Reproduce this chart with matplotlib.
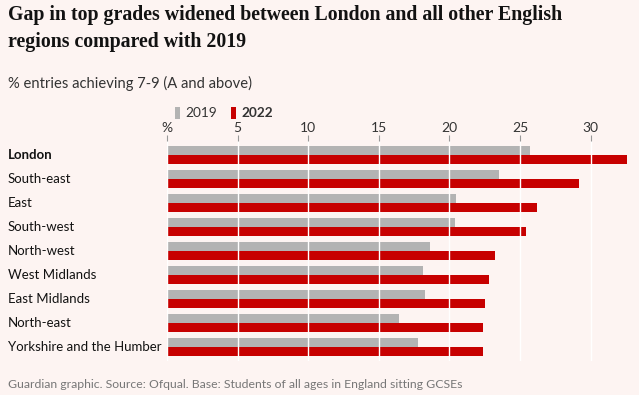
import matplotlib
matplotlib.use("Agg")
import matplotlib.pyplot as plt
from matplotlib.patches import Patch

# Dane: odsetek wpisów z ocenami 7-9 według regionu
regions = ["London", "South-east", "East", "South-west", "North-west",
           "West Midlands", "East Midlands", "North-east", "Yorkshire and the Humber"]
values_2019 = [25.7, 23.5, 20.5, 20.4, 18.6, 18.1, 18.3, 16.4, 17.8]
values_2022 = [32.6, 29.2, 26.2, 25.4, 23.2, 22.8, 22.5, 22.4, 22.4]
tick_values = [0, 5, 10, 15, 20, 25, 30]
tick_labels = ["%", "5", "10", "15", "20", "25", "30"]

BG = "#fdf4f2"
GREY = "#b3b3b3"
RED = "#c70000"
SANS = ["Lato", "DejaVu Sans"]
SERIF = ["Liberation Serif", "DejaVu Serif"]

fig = plt.figure(figsize=(6.39, 3.95), dpi=100, facecolor=BG)
ax = fig.add_axes([167 / 639, 1 - 361.4 / 395, (633 - 167) / 639, (361.4 - 140.6) / 395])
ax.set_facecolor(BG)

y = list(range(len(regions)))
h = 0.345
ax.barh([i - 0.185 for i in y], values_2019, height=h, color=GREY, zorder=1)
ax.barh([i + 0.185 for i in y], values_2022, height=h, color=RED, zorder=1)

ax.set_xlim(0, 33)
ax.set_ylim(len(regions) - 1 + 0.6, -0.6)
ax.set_yticks([])
ax.xaxis.tick_top()
ax.set_xticks(tick_values)
ax.set_xticklabels(tick_labels, fontfamily=SANS, fontsize=10, color="#333333")
ax.tick_params(axis="x", length=4, width=0.8, color="#999999", pad=1)
ax.grid(axis="x", color="white", linewidth=1, zorder=2)
ax.set_axisbelow(False)
for s in ax.spines.values():
    s.set_visible(False)

# etykiety regionów
for i, r in enumerate(regions):
    bold = r in ("London",)
    fig.text(8 / 639, 1 - (155 + 24 * i) / 395, r, ha="left", va="center",
             fontfamily=SANS, fontsize=9.5, color="#121212",
             fontweight="bold" if bold else "normal")

# tytuł i podtytuł
fig.text(8 / 639, 1 - 5 / 395, "Gap in top grades widened between London and all other English\nregions compared with 2019",
         ha="left", va="top", fontfamily=SERIF, fontsize=14.3, fontweight="bold",
         color="#121212", linespacing=1.45)
fig.text(8 / 639, 1 - 83 / 395, "% entries achieving 7-9 (A and above)", ha="left", va="center",
         fontfamily=SANS, fontsize=10.6, color="#333333")

# legenda
handles = [Patch(facecolor=GREY, edgecolor="none"), Patch(facecolor=RED, edgecolor="none")]
leg = fig.legend(handles, ["2019", "2022"], loc="center left",
                 bbox_to_anchor=(163 / 639, 1 - 113 / 395), ncol=2, frameon=False,
                 handlelength=0.35, handleheight=1.0, handletextpad=0.4, columnspacing=1.0,
                 prop={"family": SANS, "size": 9.8})
for t in leg.get_texts():
    t.set_color("#333333")
leg.get_texts()[1].set_fontweight("bold")

# stopka
fig.text(8 / 639, 1 - 385 / 395, "Guardian graphic. Source: Ofqual. Base: Students of all ages in England sitting GCSEs",
         ha="left", va="center", fontfamily=SANS, fontsize=8.8, color="#777777")

fig.savefig("out.png", dpi=100, facecolor=BG)
